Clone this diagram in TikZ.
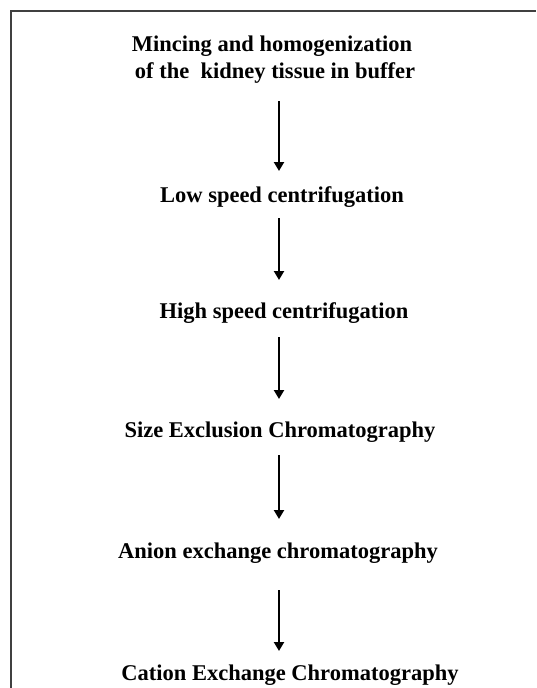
\documentclass[tikz,border=0pt]{standalone}
\usepackage{fontspec}
\setmainfont{Liberation Serif}
\usetikzlibrary{arrows.meta}
\begin{document}
\begin{tikzpicture}[x=1pt,y=-1pt,
  lbl/.style={anchor=base,inner sep=0pt,font=\fontsize{22.5}{27}\selectfont\bfseries},
  arr/.style={line width=2.2pt,-{Triangle[width=10pt,length=9pt]}},
  frame/.style={line width=2pt,draw=black!75}]
\useasboundingbox (0,0) rectangle (536,688);
\draw[frame] (11,688) -- (11,11) -- (536,11);
\node[lbl] (t1) at (272,51) {Mincing and homogenization};
\node[lbl] (t2) at (275,78) {of the\ \ kidney tissue in buffer};
\node[lbl] (t3) at (282,202) {Low speed centrifugation};
\node[lbl] (t4) at (284,318) {High speed centrifugation};
\node[lbl] (t5) at (280,437) {Size Exclusion Chromatography};
\node[lbl] (t6) at (278,558) {Anion exchange chromatography};
\node[lbl] (t7) at (290,680) {Cation Exchange Chromatography};
\coordinate (a1s) at (279,101); \coordinate (a1e) at (279,171);
\coordinate (a2s) at (279,218); \coordinate (a2e) at (279,280);
\coordinate (a3s) at (279,337); \coordinate (a3e) at (279,399);
\coordinate (a4s) at (279,455); \coordinate (a4e) at (279,519);
\coordinate (a5s) at (279,590); \coordinate (a5e) at (279,651);
\draw[arr] (a1s) -- (a1e);
\draw[arr] (a2s) -- (a2e);
\draw[arr] (a3s) -- (a3e);
\draw[arr] (a4s) -- (a4e);
\draw[arr] (a5s) -- (a5e);
\end{tikzpicture}
\end{document}
